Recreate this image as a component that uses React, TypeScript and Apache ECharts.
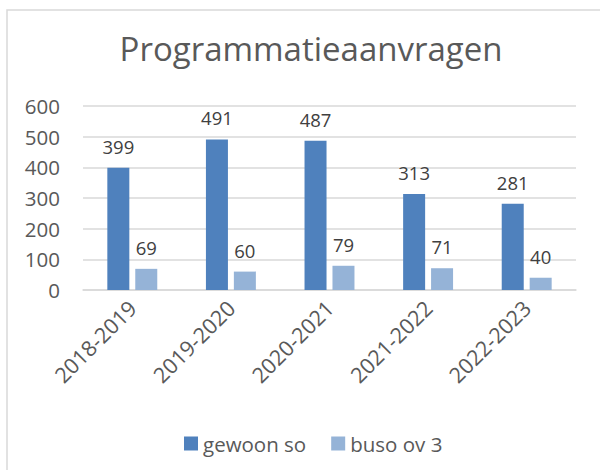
import React, { useEffect, useRef } from "react";
import * as echarts from "echarts";

const categories = ["2018-2019", "2019-2020", "2020-2021", "2021-2022", "2022-2023"];
const gewoonSo = [399, 491, 487, 313, 281];
const busoOv3 = [69, 60, 79, 71, 40];
const seriesNames = ["gewoon so", "buso ov 3"];
const titleText = "Programmatieaanvragen";

const FONT = "'Open Sans', sans-serif";
const TEXT = "#595959";

export default function App() {
  const ref = useRef<HTMLDivElement>(null);
  useEffect(() => {
    if (!ref.current) return;
    const chart = echarts.init(ref.current, undefined, { renderer: "svg" });
    chart.setOption({
      animation: false,
      backgroundColor: "#ffffff",
      title: {
        text: titleText,
        left: 306,
        textAlign: "center",
        top: 27,
        textStyle: { fontFamily: FONT, fontSize: 33, fontWeight: "normal", color: TEXT },
      },
      graphic: [
        {
          type: "rect",
          shape: { x: 7, y: 10, width: 800, height: 700 },
          style: { fill: "none", stroke: "#d9d9d9", lineWidth: 1.5 },
          silent: true,
        },
      ],
      legend: {
        left: 179,
        top: 428,
        itemWidth: 14,
        itemHeight: 14,
        itemGap: 25,
        icon: "rect",
        textStyle: { fontFamily: FONT, fontSize: 20.5, color: TEXT },
        data: seriesNames,
      },
      grid: { left: 83, right: 24, top: 106, bottom: 180 },
      xAxis: {
        type: "category",
        data: categories,
        axisLine: { lineStyle: { color: "#d9d9d9", width: 1.5 } },
        axisTick: { show: false },
        axisLabel: {
          rotate: 45,
          margin: 14,
          fontFamily: FONT,
          fontSize: 21.5,
          color: TEXT,
        },
      },
      yAxis: {
        type: "value",
        min: 0,
        max: 600,
        interval: 100,
        axisLine: { show: false },
        axisTick: { show: false },
        splitLine: { lineStyle: { color: "#d9d9d9", width: 1.5 } },
        axisLabel: { margin: 23, fontFamily: FONT, fontSize: 20.5, color: TEXT },
      },
      series: [
        {
          name: seriesNames[0],
          type: "bar",
          data: gewoonSo,
          barWidth: 22,
          barGap: "27%",
          itemStyle: { color: "#4f81bd" },
          label: {
            show: true,
            position: "top",
            distance: 12,
            fontFamily: FONT,
            fontSize: 18.5,
            color: "#404040",
          },
        },
        {
          name: seriesNames[1],
          type: "bar",
          data: busoOv3,
          barWidth: 22,
          itemStyle: { color: "#95b3d7" },
          label: {
            show: true,
            position: "top",
            distance: 12,
            fontFamily: FONT,
            fontSize: 18.5,
            color: "#404040",
          },
        },
      ],
    });
    return () => chart.dispose();
  }, []);
  return (
    <div
      ref={ref}
      style={{ position: "fixed", left: 0, top: 0, width: 600, height: 470 }}
    />
  );
}
